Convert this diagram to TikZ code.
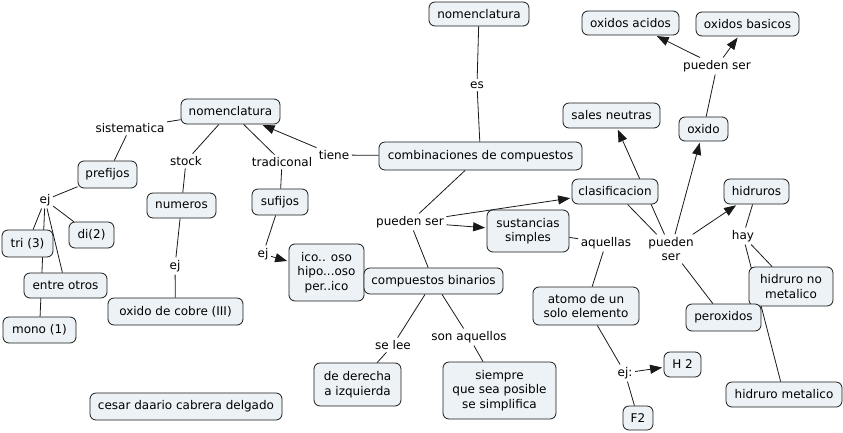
\documentclass[tikz,border=0pt]{standalone}
\usepackage{fontspec}
\setmainfont{DejaVu Sans}
\usetikzlibrary{arrows.meta}
\pgfdeclarelayer{bg}
\pgfsetlayers{bg,main}
\definecolor{nodefill}{RGB}{236,242,245}
\definecolor{linecol}{RGB}{25,25,25}
\tikzset{
  concept/.style={draw=linecol, fill=nodefill, rounded corners=6pt, line width=0.8pt,
    inner sep=0pt, align=center, font=\fontsize{12}{14.5}\selectfont},
  lnk/.style={inner sep=2.5pt, align=center, font=\fontsize{12}{14.5}\selectfont},
  conn/.style={draw=linecol, line width=0.8pt},
  arr/.style={conn, -{Triangle[length=12pt,width=9pt]}, shorten >=1.5pt},
}
\newcommand\mkc[6]{\node[concept, minimum width={#4-#2}, minimum height={#5-#3}] (#1) at ({(#2+#4)/2},{(#3+#5)/2}) {#6};}
\newcommand\mkl[4]{\node[lnk] (#1) at (#2,#3) {#4};}
\begin{document}
\begin{tikzpicture}[x=1pt,y=-1pt]
\useasboundingbox (0,0) rectangle (843,432);
% concepts
\mkc{nomtop}{429}{2}{529}{26}{nomenclatura}
\mkc{comb}{379}{142}{582}{170}{combinaciones de compuestos}
\mkc{nomleft}{181}{99}{280}{124}{nomenclatura}
\mkc{pref}{78}{161}{137}{188}{prefijos}
\mkc{num}{147}{193}{216}{218}{numeros}
\mkc{suf}{252}{189}{308}{215}{sufijos}
\mkc{di}{69}{222}{114}{248}{di(2)}
\mkc{tri}{2}{230}{53}{257}{tri (3)}
\mkc{entre}{24}{273}{107}{298}{entre otros}
\mkc{mono}{3}{317}{76}{343}{mono (1)}
\mkc{cobre}{108}{298}{243}{325}{oxido de cobre (III)}
\mkc{cesar}{90}{393}{282}{420}{cesar daario cabrera delgado}
\mkc{ico}{289}{244}{364}{301}{ico.. oso\\hipo...oso\\per..ico}
\mkc{binar}{364}{268}{503}{294}{compuestos binarios}
\mkc{sust}{487}{210}{569}{252}{sustancias\\simples}
\mkc{derecha}{314}{363}{401}{406}{de derecha\\a izquierda}
\mkc{siempre}{443}{362}{556}{419}{siempre\\que sea posible\\se simplifica}
\mkc{acidos}{582}{11}{679}{35}{oxidos acidos}
\mkc{basicos}{696}{12}{799}{36}{oxidos basicos}
\mkc{sales}{563}{103}{660}{128}{sales neutras}
\mkc{oxido}{679}{117}{728}{141}{oxido}
\mkc{clasif}{572}{179}{658}{204}{clasificacion}
\mkc{hidr}{724}{179}{789}{204}{hidruros}
\mkc{hnomet}{749}{267}{833}{306}{hidruro no\\metalico}
\mkc{perox}{686}{304}{761}{331}{peroxidos}
\mkc{hmet}{726}{382}{842}{407}{hidruro metalico}
\mkc{atomo}{533}{287}{639}{325}{atomo de un\\solo elemento}
\mkc{htwo}{664}{352}{701}{377}{H 2}
\mkc{ftwo}{623}{406}{653}{430}{F2}
% linking phrases
\mkl{les}{477}{85}{es}
\mkl{ltiene}{334}{155}{tiene}
\mkl{lsist}{130}{128}{sistematica}
\mkl{lstock}{186}{161}{stock}
\mkl{ltrad}{282}{162}{tradiconal}
\mkl{lejp}{45}{200}{ej}
\mkl{lejn}{175}{266}{ej}
\mkl{lejs}{263}{254}{ej}
\mkl{lpsa}{410}{222}{pueden ser}
\mkl{lselee}{393}{345}{se lee}
\mkl{lson}{469}{337}{son aquellos}
\mkl{laq}{606}{243}{aquellas}
\mkl{lpsb}{671}{249}{pueden\\ser}
\mkl{lhay}{743}{236}{hay}
\mkl{lejb}{625}{373}{ej:}
\mkl{lpsc}{717}{66}{pueden ser}
% connectors
\begin{pgfonlayer}{bg}
\draw[conn] (nomtop) -- (les);
\draw[conn] (les) -- (comb);
\draw[conn] (comb) -- (ltiene);
\draw[arr] (ltiene) -- (nomleft);
\draw[conn] (nomleft) -- (lsist);
\draw[conn] (lsist) -- (pref);
\draw[conn] (nomleft) -- (lstock);
\draw[conn] (lstock) -- (num);
\draw[conn] (nomleft) -- (ltrad);
\draw[conn] (ltrad) -- (suf);
\draw[conn] (pref) -- (lejp);
\draw[conn] (lejp) -- (di);
\draw[conn] (lejp) -- (tri);
\draw[conn] (lejp) -- (entre);
\draw[conn] (lejp) -- (mono);
\draw[conn] (num) -- (lejn);
\draw[conn] (lejn) -- (cobre);
\draw[conn] (suf) -- (lejs);
\draw[arr] (lejs) -- (ico);
\draw[conn] (comb) -- (lpsa);
\draw[arr] (lpsa) -- (clasif);
\draw[arr] (lpsa) -- (sust);
\draw[conn] (lpsa) -- (binar);
\draw[conn] (binar) -- (lselee);
\draw[conn] (lselee) -- (derecha);
\draw[conn] (binar) -- (lson);
\draw[conn] (lson) -- (siempre);
\draw[conn] (sust) -- (laq);
\draw[conn] (laq) -- (atomo);
\draw[conn] (atomo) -- (lejb);
\draw[arr] (lejb) -- (htwo);
\draw[conn] (lejb) -- (ftwo);
\draw[conn] (clasif) -- (lpsb);
\draw[arr] (lpsb) -- (sales);
\draw[arr] (lpsb) -- (oxido);
\draw[arr] (lpsb) -- (hidr);
\draw[conn] (lpsb) -- (perox);
\draw[conn] (oxido) -- (lpsc);
\draw[arr] (lpsc) -- (acidos);
\draw[arr] (lpsc) -- (basicos);
\draw[conn] (hidr) -- (lhay);
\draw[conn] (lhay) -- (hnomet);
\draw[conn] (lhay) -- (hmet);
\end{pgfonlayer}
\end{tikzpicture}
\end{document}
